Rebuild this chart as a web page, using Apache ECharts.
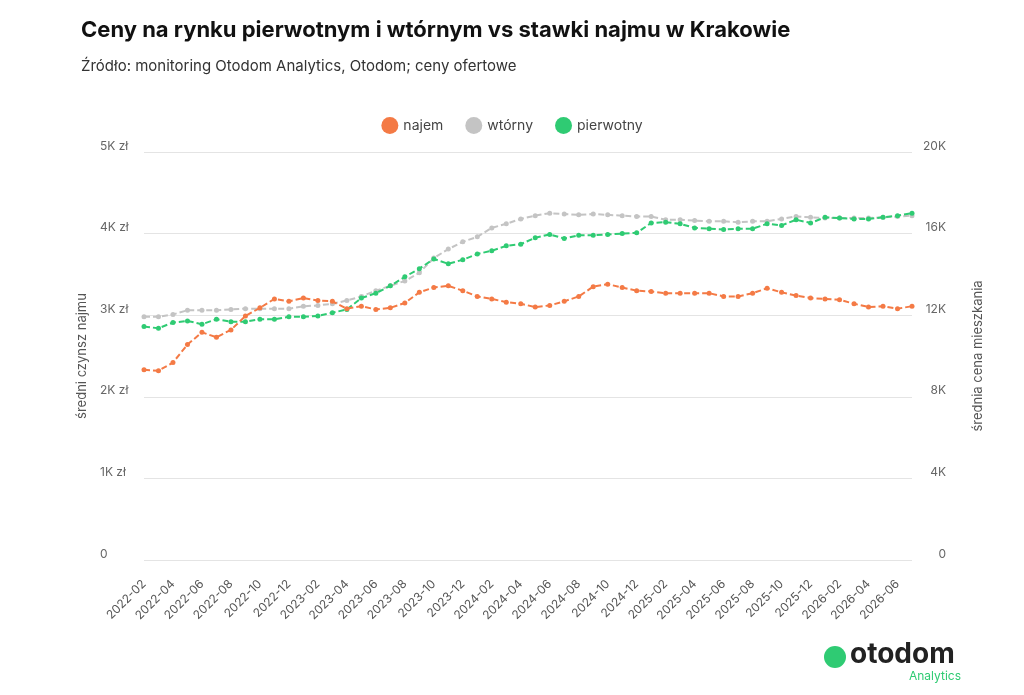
<!DOCTYPE html>
<html><head><meta charset="utf-8">
<script src="https://cdn.jsdelivr.net/npm/echarts@6/dist/echarts.min.js"></script>
<style>html,body{margin:0;background:#fff}#c{width:1024px;height:695px}</style>
</head><body><div id="c"></div>
<script>
// months 2022-02 .. 2026-07
var months = [];
for (var y = 2022, m = 2; months.length < 54; m++) {
  if (m > 12) { m = 1; y++; }
  months.push(y + '-' + (m < 10 ? '0' + m : m));
}

// najem, zł (left axis)
var najem = [2330,2320,2420,2640,2790,2730,2820,2990,3090,3200,3170,3210,3180,3170,3080,3110,3070,3090,3150,3280,3340,3360,3300,3230,3200,3160,
  3140,3100,3120,3170,3230,3350,3380,3340,3300,3290,3270,3270,3270,3270,3230,3230,3270,3330,3280,3240,3210,3200,3190,3140,3100,3110,3080,3110];
// wtórny, zł/m2 (right axis)
var wtorny = [11920,11920,12040,12240,12240,12240,12280,12320,12320,12320,12320,12440,12480,12560,12720,12920,13200,13440,13680,14080,14800,15240,15600,15840,16280,16480,
  16720,16880,17000,16960,16920,16960,16920,16880,16840,16840,16680,16680,16640,16600,16600,16560,16600,16600,16720,16840,16800,16760,16760,16760,16760,16800,16840,16880];
// pierwotny, zł/m2 (right axis)
var pierwotny = [11440,11360,11640,11720,11560,11800,11680,11680,11800,11800,11920,11920,11960,12120,12280,12840,13080,13440,13880,14280,14760,14520,14720,15000,15160,15400,
  15480,15800,15960,15760,15920,15920,15960,16000,16040,16520,16560,16480,16280,16240,16200,16240,16240,16480,16400,16680,16520,16800,16760,16720,16720,16800,16880,17000];

var chart = echarts.init(document.getElementById('c'));
var font = 'Inter, "Noto Sans", sans-serif';

function line(name, data, color, axis, z) {
  return {
    name: name, type: 'line', yAxisIndex: axis, data: data, z: z,
    symbol: 'circle', symbolSize: 5,
    itemStyle: {color: color},
    lineStyle: {color: color, width: 2, type: [6, 3]}
  };
}

chart.setOption({
  textStyle: {fontFamily: font},
  title: {
    text: 'Ceny na rynku pierwotnym i wtórnym vs stawki najmu w Krakowie',
    subtext: 'Źródło: monitoring Otodom Analytics, Otodom; ceny ofertowe',
    left: 76, top: 14, itemGap: 18,
    textStyle: {fontSize: 22, fontWeight: 'bold', color: '#111', fontFamily: font},
    subtextStyle: {fontSize: 15, color: '#333', fontFamily: font}
  },
  legend: {
    top: 112, left: 'center', itemGap: 22,
    icon: 'circle', itemWidth: 17, itemHeight: 17,
    textStyle: {fontSize: 14, color: '#444'},
    data: ['najem', 'wtórny', 'pierwotny']
  },
  grid: {left: 144, right: 112, top: 152, bottom: 135},
  xAxis: {
    type: 'category', data: months, boundaryGap: false,
    axisLine: {show: false}, axisTick: {show: false},
    axisLabel: {interval: 1, rotate: 45, color: '#555', fontSize: 12, margin: 22}
  },
  yAxis: [{
    type: 'value', min: 0, max: 5000, interval: 1000,
    name: 'średni czynsz najmu', nameLocation: 'middle', nameGap: 55,
    nameTextStyle: {color: '#555', fontSize: 13},
    splitLine: {lineStyle: {color: '#e4e4e4'}},
    axisLabel: {color: '#666', fontSize: 12, align: 'left', margin: 44, verticalAlign: 'bottom',
      formatter: function (v) { return v === 0 ? '0' : (v / 1000) + 'K zł'; }}
  }, {
    type: 'value', min: 0, max: 20000, interval: 4000,
    name: 'średnia cena mieszkania', nameLocation: 'middle', nameGap: 60,
    nameTextStyle: {color: '#555', fontSize: 13},
    splitLine: {show: false},
    axisLabel: {color: '#666', fontSize: 12, align: 'right', margin: 34, verticalAlign: 'bottom',
      formatter: function (v) { return v === 0 ? '0' : (v / 1000) + 'K'; }}
  }],
  series: [
    line('najem', najem, '#f47a45', 0, 3),
    line('wtórny', wtorny, '#c4c4c4', 1, 1),
    line('pierwotny', pierwotny, '#2fcb73', 1, 2)
  ],
  graphic: [
    {type: 'circle', shape: {cx: 835, cy: 657, r: 11}, style: {fill: '#2fcb73'}},
    {type: 'text', left: 850, top: 641, style: {text: 'otodom', fontSize: 28, fontWeight: 'bold', fill: '#222', fontFamily: font}},
    {type: 'text', left: 909, top: 670, style: {text: 'Analytics', fontSize: 12, fill: '#2fcb73', fontFamily: font}}
  ]
});
</script></body></html>
